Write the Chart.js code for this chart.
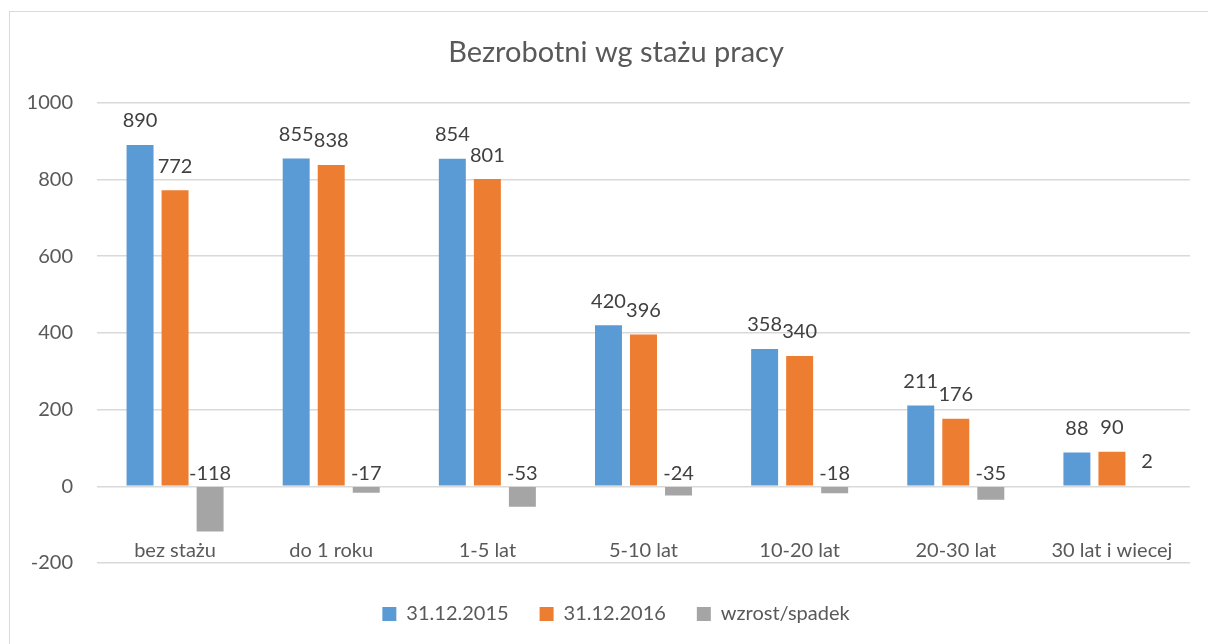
<!DOCTYPE html>
<html>
<head>
<meta charset="utf-8">
<script src="https://cdn.jsdelivr.net/npm/chart.js@4/dist/chart.umd.min.js"></script>
<style>
  html, body { margin: 0; padding: 0; background: #fff; }
  #wrap { width: 1208px; height: 644px; }
</style>
</head>
<body>
<div id="wrap"><canvas id="barChart"></canvas></div>
<script>
const categories = ['bez stażu', 'do 1 roku', '1-5 lat', '5-10 lat', '10-20 lat', '20-30 lat', '30 lat i wiecej'];
const seriesNames = ['31.12.2015', '31.12.2016', 'wzrost/spadek'];
const values2015 = [890, 855, 854, 420, 358, 211, 88];
const values2016 = [772, 838, 801, 396, 340, 176, 90];
const valuesChange = [-118, -17, -53, -24, -18, -35, 2];
const yTicks = [-200, 0, 200, 400, 600, 800, 1000];

const colors = ['#5B9BD5', '#ED7D31', '#A5A5A5'];
const fontName = 'Lato, "Open Sans", sans-serif';

// frame round the chart, like the spreadsheet chart border
const frame = {
    id: 'frame',
    beforeDraw(chart) {
        const ctx = chart.ctx;
        ctx.save();
        ctx.fillStyle = '#fff';
        ctx.fillRect(0, 0, chart.width, chart.height);
        ctx.strokeStyle = '#D9D9D9';
        ctx.lineWidth = 1;
        ctx.strokeRect(9.5, 11.5, chart.width + 10, chart.height + 10);
        ctx.restore();
    }
};

// value labels over the bars
const valueLabels = {
    id: 'valueLabels',
    afterDatasetsDraw(chart) {
        const ctx = chart.ctx;
        const yScale = chart.scales.y;
        const zero = yScale.getPixelForValue(0);
        ctx.save();
        ctx.font = '20px ' + fontName;
        ctx.fillStyle = '#404040';
        ctx.textAlign = 'center';
        ctx.textBaseline = 'bottom';
        chart.data.datasets.forEach((ds, i) => {
            const meta = chart.getDatasetMeta(i);
            meta.data.forEach((bar, j) => {
                const v = ds.data[j];
                const y = v >= 0 ? bar.y - 14 : zero - 3;
                ctx.fillText(String(v), bar.x, y);
            });
        });
        ctx.restore();
    }
};

new Chart('barChart', {
    type: 'bar',
    data: {
        labels: categories,
        datasets: [
            { label: seriesNames[0], data: values2015, backgroundColor: colors[0] },
            { label: seriesNames[1], data: values2016, backgroundColor: colors[1] },
            { label: seriesNames[2], data: valuesChange, backgroundColor: colors[2] }
        ]
    },
    options: {
        responsive: true,
        maintainAspectRatio: false,
        animation: false,
        datasets: {
            bar: { categoryPercentage: 0.673, barPercentage: 0.77 }
        },
        layout: { padding: { top: 11, left: 24, right: 0, bottom: 10 } },
        scales: {
            x: {
                grid: { display: false },
                border: { display: false },
                ticks: { color: '#595959', font: { family: fontName, size: 20 }, padding: 0, mirror: true, maxRotation: 0 },
                afterFit(scale) { scale.height = 10; }
            },
            y: {
                min: -200,
                max: 1000,
                afterBuildTicks(scale) { scale.ticks = yTicks.map(v => ({ value: v })); },
                afterFit(scale) { scale.width = 73; },
                grid: { color: '#D9D9D9', drawTicks: false, lineWidth: 1.5 },
                border: { display: false },
                ticks: {
                    color: '#595959',
                    font: { family: fontName, size: 20 },
                    padding: 24,
                    callback: v => String(v)
                }
            },
            // empty right-hand axis, only keeps the plot area off the right edge
            yRight: {
                type: 'linear',
                position: 'right',
                grid: { display: false },
                border: { display: false },
                ticks: { display: false },
                afterFit(scale) { scale.width = 18; }
            }
        },
        plugins: {
            title: {
                display: true,
                text: 'Bezrobotni wg stażu pracy',
                color: '#595959',
                font: { family: fontName, size: 29, weight: 'normal' },
                padding: { top: 24, bottom: 33 }
            },
            legend: {
                position: 'bottom',
                labels: {
                    color: '#595959',
                    font: { family: fontName, size: 20 },
                    boxWidth: 14,
                    boxHeight: 14,
                    padding: 31
                }
            },
            tooltip: { enabled: false }
        }
    },
    plugins: [frame, valueLabels]
});
</script>
</body>
</html>
